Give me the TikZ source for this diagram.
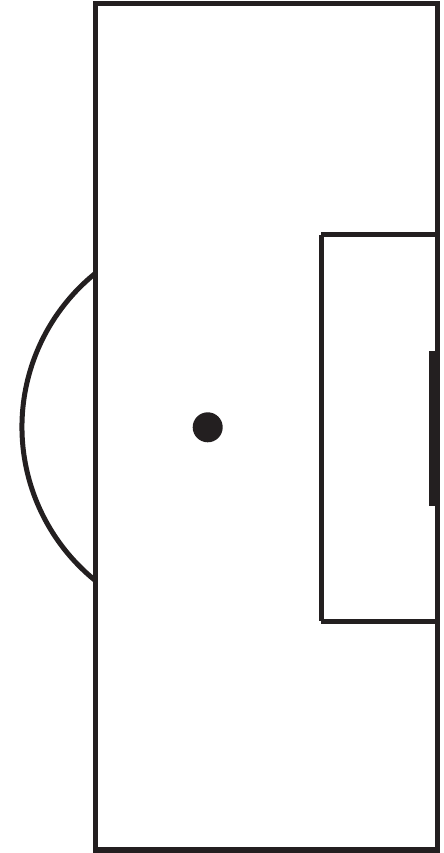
\documentclass[tikz,border=0pt]{standalone}
\usepackage{tikz}
\definecolor{pitchline}{HTML}{231F20}

\begin{document}
\begin{tikzpicture}[x=0.025cm, y=0.025cm, line width=0.125cm, draw=pitchline]
    \useasboundingbox (0,0) rectangle (444,853);
    % Half of the pitch
    \draw (95,849.5) rectangle (437,3);
    % Penalty area
    \draw (321,618) -- (437,618);
    \draw (321,231.5) -- (437,231.5);
    \draw (321,618) -- (321,231.5);
    % Goal
    \draw[line width=0.15cm] (432,502) -- (432,347.3);
    % Penalty spot
    \node (spot) at (207.7,425.7) [circle, fill=pitchline, minimum size=0.75cm, inner sep=0pt] {};
    % Arc
    \draw (94.9,579.3) arc[start angle=129.1, end angle=230.9, radius=197.5];
\end{tikzpicture}
\end{document}
